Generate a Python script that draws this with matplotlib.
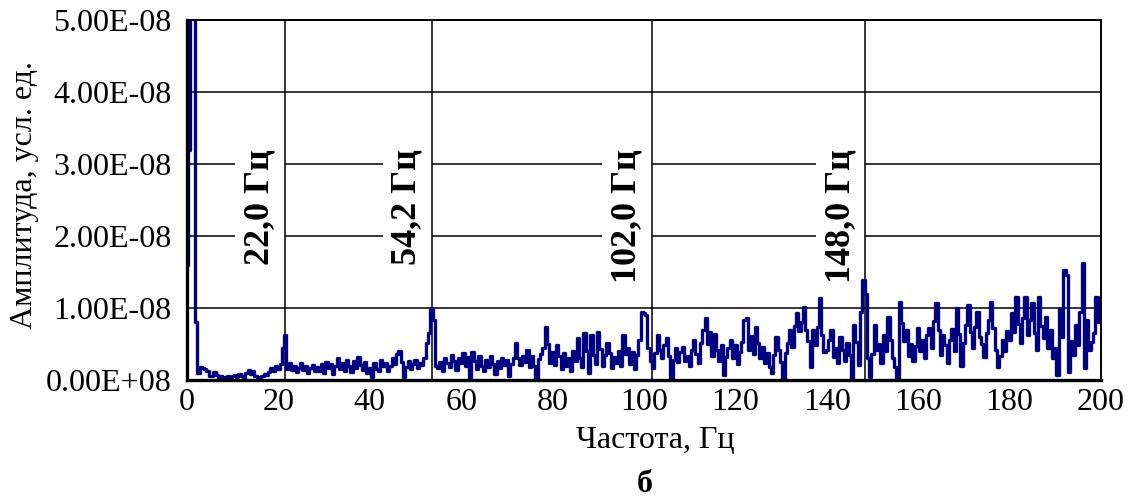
import numpy as np
import matplotlib
matplotlib.use('Agg')
import matplotlib.pyplot as plt
import matplotlib.transforms as mtransforms

plt.rcParams['font.family'] = ['Liberation Serif', 'DejaVu Serif']

# Спектр: шаг 0.5 Гц, амплитуда в единицах 1e-9
df = 0.5
amp = [
    16, 32, 60, 55, 8, 1.0, 1.8, 1.7, 1.5, 1.2, 0.6, 0.5, 1.1, 0.7, 0.3, 0.5, 0.4, 0.2, 0.6, 0.4,
    0.5, 0.7, 0.4, 0.8, 0.6, 0.3, 1.0, 1.4, 0.9, 1.2, 0.6, 0.4, 0.3, 0.6, 0.9, 0.7, 1.1, 1.6, 1.3, 1.9,
    1.5, 2.2, 4.5, 6.2, 1.5, 2.3, 1.4, 2.0, 1.1, 1.7, 2.3, 1.4, 1.9, 1.0, 1.6, 2.1, 1.2, 1.8, 1.3, 2.2,
    1.0, 2.5, 1.6, 2.2, 0.8, 1.9, 3.0, 1.5, 2.4, 1.2, 2.8, 1.9, 1.1, 2.6, 1.7, 3.2, 2.1, 1.4, 2.5, 1.0,
    1.6, 0.4, 2.3, 1.5, 1.2, 2.8, 1.9, 2.4, 1.3, 2.0, 3.0, 2.2, 3.6, 4.0, 2.5, 0.4, 1.8, 2.7, 1.5, 2.2,
    2.8, 1.7, 2.4, 2.1, 3.0, 5.1, 6.5, 9.9, 8.3, 2.0, 1.6, 2.5, 1.2, 3.1, 2.4, 1.8, 3.5, 2.6, 1.4, 3.0,
    2.4, 3.8, 1.9, 3.2, 0.3, 3.9, 2.6, 1.5, 3.4, 2.0, 1.2, 2.8, 1.8, 3.3, 2.2, 0.9, 2.6, 1.6, 3.0, 2.1,
    2.8, 0.5, 2.2, 3.1, 5.1, 3.0, 2.1, 3.4, 2.5, 4.2, 1.8, 3.4, 2.0, 0.2, 2.9, 3.6, 4.5, 7.4, 5.0, 2.4,
    3.9, 2.1, 4.9, 3.3, 1.5, 3.8, 2.0, 3.0, 1.2, 4.0, 2.6, 5.8, 3.1, 1.8, 6.5, 4.0, 1.0, 6.2, 3.5, 2.2,
    6.7, 4.3, 2.0, 3.5, 5.1, 3.8, 1.6, 3.2, 2.4, 4.0, 1.9, 6.3, 3.6, 4.5, 2.2, 3.9, 1.5, 3.5, 5.5, 9.4,
    9.3, 9.0, 4.5, 2.6, 1.7, 3.8, 6.2, 4.2, 3.1, 4.9, 5.8, 3.3, 0.3, 2.8, 4.5, 2.5, 3.9, 4.6, 2.7, 3.4,
    2.0, 4.1, 5.5, 3.6, 2.4, 5.2, 6.9, 8.6, 5.0, 6.7, 3.4, 6.4, 4.1, 2.6, 4.9, 0.7, 3.2, 4.4, 5.6, 3.0,
    4.8, 2.2, 3.9, 5.3, 8.3, 8.6, 4.2, 6.1, 3.6, 7.4, 5.2, 3.0, 4.6, 2.4, 3.7, 1.8, 1.0, 3.5, 6.0, 4.1,
    2.5, 0.2, 3.8, 5.2, 6.9, 4.6, 7.5, 9.3, 6.8, 8.1, 10.1, 7.0, 5.4, 1.8, 6.9, 4.8, 7.3, 11.4, 6.2, 3.9,
    4.2, 5.6, 6.9, 3.2, 4.5, 2.3, 6.0, 4.1, 2.7, 5.2, 3.5, 0.3, 7.6, 5.3, 2.1, 9.5, 13.9, 12.0, 3.0, 0.4,
    3.6, 7.6, 4.2, 5.0, 2.4, 6.2, 4.0, 8.8, 5.5, 3.0, 1.8, 0.2, 10.8, 7.9, 5.4, 7.0, 3.4, 5.0, 2.6, 4.7,
    7.2, 4.0, 5.6, 3.1, 6.3, 7.2, 4.5, 8.2, 10.7, 6.9, 3.5, 6.2, 4.8, 2.3, 5.5, 7.1, 4.0, 10.0, 6.4, 2.0,
    5.2, 7.6, 10.4, 6.7, 4.4, 7.3, 9.5, 6.0, 5.0, 3.2, 6.5, 8.3, 10.8, 7.2, 4.1, 1.8, 3.4, 5.6, 4.0, 6.8,
    5.5, 9.3, 6.6, 11.5, 7.8, 5.2, 8.6, 11.5, 6.2, 8.4, 10.7, 6.5, 4.2, 11.5, 7.5, 5.8, 8.8, 4.4, 6.9, 3.1,
    4.5, 0.7, 9.8, 6.0, 15.3, 14.6, 1.1, 5.4, 3.5, 7.6, 4.8, 9.4, 16.2, 1.7, 8.4, 4.2, 5.3, 6.5, 11.5, 8.0,
    11.0,
]
freq = np.arange(len(amp)) * df

# Отмеченные частоты: положение линии и подпись
mark_pos = [21.4, 53.6, 101.7, 148.4]
mark_text = ['22,0 Гц', '54,2 Гц', '102,0 Гц', '148,0 Гц']

yticks = [0, 1e-8, 2e-8, 3e-8, 4e-8, 5e-8]
ytick_labels = ['0.00E+08', '1.00E-08', '2.00E-08', '3.00E-08', '4.00E-08', '5.00E-08']
xticks = list(range(0, 201, 20))

fig = plt.figure(figsize=(11.34, 5.0), dpi=100)
ax = fig.add_axes([187/1134, 1 - 380/500, 914/1134, 360/500])

ax.plot(freq, np.array(amp) * 1e-9, color='#000080', linewidth=2.4,
        drawstyle='steps-mid', zorder=4)

# Горизонтальная сетка (под подписями) и вертикальные линии на пиках (над ними)
for y in yticks[1:]:
    ax.axhline(y, color='black', linewidth=1.1, zorder=1)
for f in mark_pos:
    ax.axvline(f, color='black', linewidth=1.1, zorder=3)

trans = mtransforms.offset_copy(ax.transData, fig=fig, x=-8, y=0, units='dots')
for f, t in zip(mark_pos, mark_text):
    ax.text(f, 3.2e-8, t, transform=trans, rotation=90, ha='right', va='top',
            fontsize=26, fontweight='bold',
            bbox=dict(facecolor='white', edgecolor='none', pad=6), zorder=2)

ax.set_xlim(0, 200)
ax.set_ylim(0, 5e-8)
ax.set_xticks(xticks)
ax.set_yticks(yticks)
ax.set_yticklabels(ytick_labels)
ax.tick_params(axis='both', length=0, labelsize=23)
ax.tick_params(axis='y', pad=11)
ax.tick_params(axis='x', pad=6)

ax.spines['left'].set_linewidth(2.4)
ax.spines['bottom'].set_linewidth(2.4)
ax.spines['top'].set_linewidth(1.4)
ax.spines['right'].set_linewidth(1.4)
for s in ax.spines.values():
    s.set_zorder(5)

fig.text(25/1134, 1 - 195/500, 'Амплитуда, усл. ед.', rotation=90,
         ha='center', va='center', fontsize=23)
fig.text(655/1134, 1 - 440/500, 'Частота, Гц', ha='center', va='center', fontsize=23)
fig.text(645/1134, 1 - 484/500, 'б', ha='center', va='center', fontsize=23, fontweight='bold')

fig.savefig('out.png', dpi=100)
